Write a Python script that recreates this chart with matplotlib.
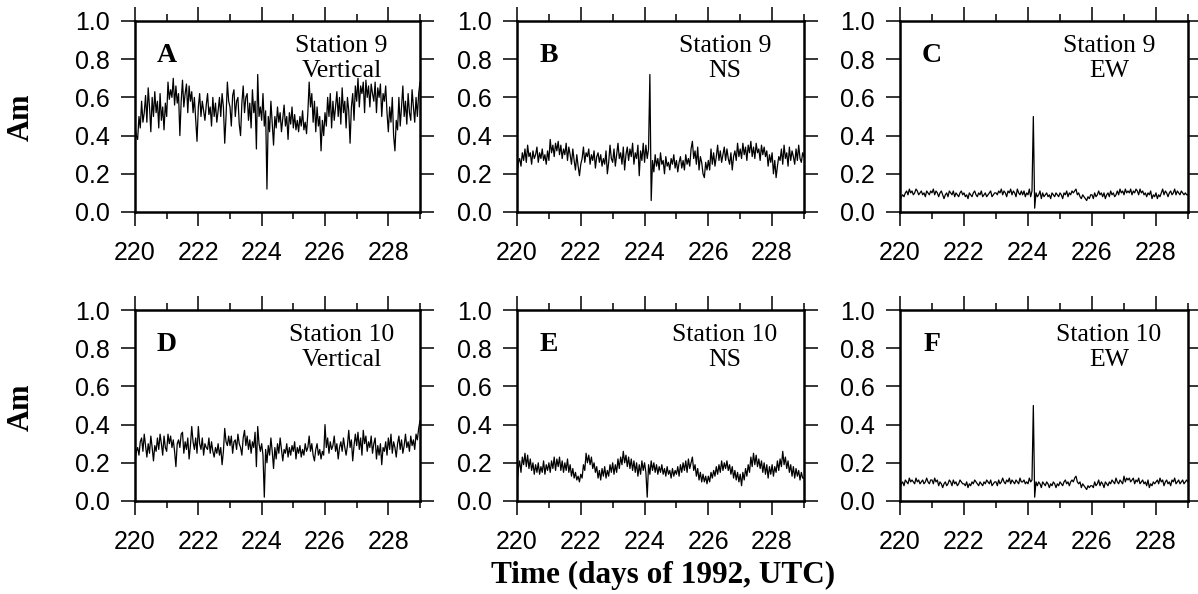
import numpy as np
import matplotlib
matplotlib.use('Agg')
import matplotlib.pyplot as plt
from matplotlib.ticker import MultipleLocator

# amostras horárias, dias 220 a 229 de 1992 (uma linha por dia)
dias = 220 + np.arange(217) / 24

am_a = [0.45, 0.40, 0.38, 0.50, 0.44, 0.58, 0.47, 0.52, 0.61, 0.47, 0.65, 0.55, 0.42, 0.60, 0.50, 0.63, 0.52, 0.58, 0.44, 0.62, 0.48, 0.55, 0.43, 0.57,
        0.50, 0.68, 0.59, 0.64, 0.60, 0.70, 0.56, 0.66, 0.57, 0.62, 0.40, 0.58, 0.69, 0.55, 0.62, 0.67, 0.52, 0.66, 0.58, 0.63, 0.52, 0.60, 0.48, 0.37,
        0.55, 0.62, 0.50, 0.58, 0.53, 0.48, 0.56, 0.62, 0.51, 0.55, 0.45, 0.60, 0.50, 0.57, 0.47, 0.53, 0.60, 0.50, 0.62, 0.55, 0.36, 0.50, 0.68, 0.58,
        0.55, 0.45, 0.61, 0.64, 0.50, 0.58, 0.60, 0.46, 0.40, 0.57, 0.66, 0.52, 0.60, 0.62, 0.48, 0.57, 0.44, 0.64, 0.52, 0.58, 0.33, 0.72, 0.50, 0.55,
        0.48, 0.62, 0.45, 0.53, 0.12, 0.50, 0.42, 0.58, 0.46, 0.35, 0.50, 0.44, 0.55, 0.47, 0.52, 0.42, 0.49, 0.56, 0.45, 0.50, 0.38, 0.52, 0.46, 0.55,
        0.44, 0.51, 0.43, 0.48, 0.42, 0.50, 0.45, 0.53, 0.43, 0.47, 0.41, 0.52, 0.68, 0.55, 0.62, 0.47, 0.58, 0.42, 0.55, 0.45, 0.50, 0.32, 0.48, 0.40,
        0.52, 0.45, 0.60, 0.50, 0.62, 0.44, 0.58, 0.48, 0.55, 0.63, 0.50, 0.60, 0.46, 0.65, 0.52, 0.58, 0.44, 0.60, 0.53, 0.36, 0.55, 0.62, 0.48, 0.66,
        0.58, 0.70, 0.55, 0.66, 0.62, 0.68, 0.52, 0.69, 0.60, 0.66, 0.55, 0.67, 0.62, 0.58, 0.68, 0.52, 0.65, 0.60, 0.67, 0.50, 0.62, 0.58, 0.66, 0.52,
        0.42, 0.55, 0.47, 0.60, 0.40, 0.32, 0.48, 0.43, 0.60, 0.45, 0.55, 0.66, 0.50, 0.58, 0.46, 0.62, 0.52, 0.48, 0.64, 0.55, 0.47, 0.60, 0.50, 0.62,
        0.68]

am_b = [0.20, 0.26, 0.28, 0.24, 0.31, 0.27, 0.33, 0.26, 0.35, 0.29, 0.31, 0.25, 0.32, 0.28, 0.30, 0.34, 0.26, 0.31, 0.28, 0.33, 0.27, 0.30, 0.25, 0.32,
        0.27, 0.38, 0.31, 0.35, 0.29, 0.36, 0.32, 0.37, 0.30, 0.35, 0.28, 0.33, 0.30, 0.36, 0.27, 0.34, 0.30, 0.25, 0.33, 0.27, 0.22, 0.30, 0.24, 0.19,
        0.25, 0.28, 0.34, 0.26, 0.31, 0.29, 0.33, 0.25, 0.30, 0.27, 0.32, 0.23, 0.29, 0.31, 0.26, 0.30, 0.24, 0.28, 0.25, 0.32, 0.20, 0.26, 0.35, 0.28,
        0.26, 0.33, 0.24, 0.30, 0.36, 0.28, 0.31, 0.25, 0.34, 0.22, 0.30, 0.34, 0.27, 0.33, 0.29, 0.36, 0.25, 0.31, 0.28, 0.35, 0.19, 0.32, 0.27, 0.36,
        0.26, 0.35, 0.28, 0.33, 0.72, 0.06, 0.27, 0.21, 0.30, 0.24, 0.28, 0.22, 0.31, 0.25, 0.27, 0.20, 0.29, 0.24, 0.26, 0.22, 0.28, 0.25, 0.30, 0.23,
        0.27, 0.21, 0.26, 0.29, 0.23, 0.27, 0.22, 0.30, 0.25, 0.28, 0.24, 0.33, 0.37, 0.28, 0.32, 0.25, 0.34, 0.22, 0.29, 0.26, 0.20, 0.18, 0.26, 0.22,
        0.27, 0.22, 0.33, 0.25, 0.31, 0.24, 0.29, 0.35, 0.27, 0.32, 0.26, 0.30, 0.34, 0.27, 0.33, 0.28, 0.25, 0.31, 0.22, 0.29, 0.32, 0.27, 0.36, 0.29,
        0.33, 0.28, 0.36, 0.30, 0.34, 0.27, 0.35, 0.31, 0.37, 0.29, 0.34, 0.28, 0.36, 0.31, 0.33, 0.27, 0.35, 0.30, 0.34, 0.29, 0.32, 0.24, 0.30, 0.26,
        0.31, 0.20, 0.27, 0.18, 0.24, 0.29, 0.27, 0.33, 0.25, 0.35, 0.28, 0.31, 0.24, 0.34, 0.27, 0.32, 0.29, 0.25, 0.33, 0.27, 0.35, 0.28, 0.26, 0.31,
        0.29]

am_c = [0.06, 0.08, 0.09, 0.08, 0.10, 0.11, 0.09, 0.12, 0.10, 0.11, 0.09, 0.10, 0.12, 0.11, 0.09, 0.10, 0.11, 0.09, 0.10, 0.08, 0.11, 0.10, 0.09, 0.11,
        0.10, 0.12, 0.09, 0.11, 0.10, 0.08, 0.10, 0.11, 0.09, 0.07, 0.09, 0.10, 0.08, 0.11, 0.10, 0.09, 0.11, 0.08, 0.10, 0.09, 0.08, 0.10, 0.11, 0.09,
        0.10, 0.08, 0.09, 0.07, 0.10, 0.09, 0.08, 0.10, 0.11, 0.09, 0.08, 0.10, 0.09, 0.11, 0.08, 0.09, 0.10, 0.08, 0.09, 0.10, 0.11, 0.08, 0.09, 0.10,
        0.10, 0.09, 0.11, 0.10, 0.12, 0.09, 0.11, 0.10, 0.08, 0.11, 0.10, 0.12, 0.09, 0.11, 0.10, 0.08, 0.12, 0.10, 0.09, 0.11, 0.09, 0.11, 0.08, 0.10,
        0.09, 0.12, 0.08, 0.11, 0.50, 0.02, 0.10, 0.08, 0.09, 0.11, 0.07, 0.10, 0.08, 0.09, 0.10, 0.08, 0.09, 0.07, 0.10, 0.09, 0.08, 0.10, 0.09, 0.08,
        0.10, 0.09, 0.07, 0.10, 0.09, 0.11, 0.08, 0.10, 0.09, 0.11, 0.10, 0.11, 0.12, 0.09, 0.10, 0.08, 0.07, 0.09, 0.08, 0.07, 0.06, 0.08, 0.07, 0.09,
        0.09, 0.07, 0.10, 0.08, 0.09, 0.11, 0.09, 0.10, 0.08, 0.10, 0.07, 0.09, 0.10, 0.08, 0.11, 0.09, 0.10, 0.08, 0.09, 0.11, 0.09, 0.12, 0.10, 0.11,
        0.09, 0.12, 0.10, 0.11, 0.10, 0.12, 0.09, 0.11, 0.10, 0.12, 0.11, 0.09, 0.12, 0.10, 0.11, 0.09, 0.10, 0.08, 0.10, 0.09, 0.11, 0.07, 0.09, 0.08,
        0.10, 0.07, 0.09, 0.08, 0.10, 0.12, 0.09, 0.11, 0.10, 0.08, 0.10, 0.11, 0.09, 0.10, 0.12, 0.09, 0.11, 0.10, 0.09, 0.11, 0.10, 0.09, 0.10, 0.09,
        0.09]

am_d = [0.20, 0.26, 0.28, 0.24, 0.31, 0.33, 0.26, 0.35, 0.29, 0.23, 0.30, 0.25, 0.34, 0.28, 0.21, 0.29, 0.26, 0.33, 0.27, 0.35, 0.30, 0.24, 0.34, 0.28,
        0.26, 0.35, 0.30, 0.34, 0.28, 0.32, 0.26, 0.18, 0.30, 0.32, 0.28, 0.35, 0.36, 0.25, 0.31, 0.27, 0.33, 0.22, 0.29, 0.39, 0.31, 0.27, 0.33, 0.25,
        0.39, 0.30, 0.27, 0.33, 0.24, 0.30, 0.28, 0.27, 0.33, 0.25, 0.31, 0.26, 0.23, 0.28, 0.25, 0.30, 0.24, 0.28, 0.19, 0.26, 0.38, 0.31, 0.29, 0.34,
        0.29, 0.34, 0.25, 0.31, 0.32, 0.27, 0.35, 0.30, 0.28, 0.24, 0.33, 0.37, 0.29, 0.34, 0.27, 0.32, 0.25, 0.31, 0.28, 0.36, 0.18, 0.39, 0.30, 0.26,
        0.30, 0.24, 0.02, 0.27, 0.20, 0.29, 0.24, 0.33, 0.26, 0.17, 0.28, 0.22, 0.30, 0.25, 0.33, 0.27, 0.21, 0.27, 0.25, 0.30, 0.23, 0.28, 0.24, 0.29,
        0.26, 0.31, 0.22, 0.28, 0.25, 0.29, 0.23, 0.27, 0.24, 0.30, 0.26, 0.28, 0.34, 0.26, 0.30, 0.24, 0.21, 0.27, 0.30, 0.24, 0.27, 0.22, 0.26, 0.24,
        0.40, 0.28, 0.33, 0.25, 0.31, 0.27, 0.29, 0.34, 0.26, 0.30, 0.22, 0.28, 0.31, 0.26, 0.33, 0.28, 0.24, 0.29, 0.37, 0.28, 0.32, 0.21, 0.29, 0.35,
        0.29, 0.36, 0.27, 0.33, 0.24, 0.37, 0.30, 0.34, 0.26, 0.31, 0.28, 0.34, 0.25, 0.30, 0.33, 0.22, 0.29, 0.24, 0.30, 0.19, 0.28, 0.26, 0.31, 0.24,
        0.33, 0.27, 0.35, 0.25, 0.31, 0.28, 0.23, 0.30, 0.34, 0.27, 0.32, 0.25, 0.29, 0.35, 0.28, 0.31, 0.26, 0.34, 0.29, 0.32, 0.27, 0.35, 0.32, 0.38,
        0.42]

am_e = [0.08, 0.17, 0.21, 0.15, 0.23, 0.19, 0.25, 0.18, 0.24, 0.17, 0.22, 0.16, 0.20, 0.14, 0.19, 0.15, 0.20, 0.14, 0.18, 0.15, 0.21, 0.14, 0.19, 0.16,
        0.20, 0.15, 0.21, 0.17, 0.23, 0.16, 0.22, 0.18, 0.23, 0.16, 0.21, 0.15, 0.20, 0.16, 0.22, 0.15, 0.19, 0.13, 0.17, 0.12, 0.15, 0.11, 0.13, 0.10,
        0.14, 0.12, 0.19, 0.16, 0.25, 0.20, 0.24, 0.19, 0.23, 0.17, 0.20, 0.15, 0.18, 0.12, 0.16, 0.11, 0.17, 0.13, 0.18, 0.12, 0.16, 0.13, 0.19, 0.15,
        0.20, 0.14, 0.19, 0.15, 0.22, 0.17, 0.23, 0.19, 0.26, 0.20, 0.24, 0.18, 0.23, 0.17, 0.22, 0.16, 0.21, 0.15, 0.20, 0.13, 0.19, 0.14, 0.21, 0.16,
        0.20, 0.15, 0.02, 0.19, 0.14, 0.21, 0.16, 0.20, 0.15, 0.19, 0.14, 0.18, 0.15, 0.19, 0.14, 0.17, 0.13, 0.18, 0.14, 0.16, 0.12, 0.17, 0.13, 0.16,
        0.14, 0.18, 0.13, 0.19, 0.15, 0.20, 0.16, 0.21, 0.15, 0.22, 0.17, 0.20, 0.23, 0.16, 0.19, 0.13, 0.17, 0.11, 0.15, 0.10, 0.14, 0.10, 0.13, 0.09,
        0.13, 0.10, 0.15, 0.12, 0.16, 0.13, 0.18, 0.14, 0.19, 0.15, 0.21, 0.16, 0.20, 0.17, 0.21, 0.16, 0.19, 0.14, 0.18, 0.12, 0.16, 0.11, 0.15, 0.10,
        0.14, 0.08, 0.15, 0.11, 0.17, 0.13, 0.19, 0.15, 0.23, 0.18, 0.25, 0.19, 0.24, 0.18, 0.22, 0.17, 0.21, 0.15, 0.20, 0.14, 0.19, 0.12, 0.18, 0.14,
        0.19, 0.13, 0.18, 0.15, 0.21, 0.16, 0.22, 0.18, 0.26, 0.19, 0.23, 0.17, 0.21, 0.15, 0.19, 0.13, 0.18, 0.12, 0.17, 0.13, 0.16, 0.11, 0.15, 0.12,
        0.12]

am_f = [0.07, 0.09, 0.10, 0.08, 0.11, 0.10, 0.09, 0.12, 0.10, 0.11, 0.10, 0.09, 0.12, 0.10, 0.11, 0.09, 0.10, 0.11, 0.09, 0.10, 0.12, 0.10, 0.09, 0.11,
        0.11, 0.09, 0.12, 0.10, 0.11, 0.08, 0.10, 0.09, 0.07, 0.09, 0.10, 0.08, 0.09, 0.11, 0.10, 0.08, 0.11, 0.09, 0.10, 0.08, 0.09, 0.11, 0.10, 0.09,
        0.09, 0.08, 0.10, 0.07, 0.09, 0.08, 0.10, 0.09, 0.11, 0.10, 0.09, 0.08, 0.10, 0.09, 0.08, 0.10, 0.09, 0.11, 0.10, 0.09, 0.11, 0.08, 0.09, 0.10,
        0.10, 0.08, 0.11, 0.09, 0.10, 0.12, 0.10, 0.09, 0.11, 0.10, 0.12, 0.09, 0.11, 0.10, 0.09, 0.11, 0.10, 0.09, 0.12, 0.10, 0.10, 0.11, 0.09, 0.10,
        0.09, 0.12, 0.10, 0.11, 0.50, 0.02, 0.10, 0.08, 0.10, 0.09, 0.07, 0.10, 0.09, 0.08, 0.10, 0.09, 0.07, 0.09, 0.08, 0.10, 0.09, 0.07, 0.09, 0.08,
        0.10, 0.09, 0.08, 0.10, 0.11, 0.09, 0.10, 0.08, 0.10, 0.11, 0.10, 0.12, 0.13, 0.10, 0.09, 0.10, 0.07, 0.09, 0.08, 0.07, 0.06, 0.08, 0.07, 0.08,
        0.08, 0.07, 0.10, 0.08, 0.09, 0.11, 0.08, 0.10, 0.09, 0.07, 0.10, 0.09, 0.08, 0.10, 0.09, 0.11, 0.10, 0.09, 0.12, 0.10, 0.09, 0.11, 0.10, 0.09,
        0.13, 0.10, 0.12, 0.11, 0.12, 0.10, 0.11, 0.12, 0.09, 0.11, 0.10, 0.12, 0.09, 0.10, 0.11, 0.09, 0.10, 0.08, 0.11, 0.07, 0.09, 0.08, 0.10, 0.09,
        0.10, 0.11, 0.09, 0.12, 0.10, 0.11, 0.08, 0.10, 0.11, 0.09, 0.10, 0.08, 0.11, 0.10, 0.12, 0.09, 0.10, 0.11, 0.09, 0.10, 0.11, 0.09, 0.10, 0.11,
        0.10]

letras = ['A', 'B', 'C', 'D', 'E', 'F']
estacoes = ['Station 9', 'Station 9', 'Station 9', 'Station 10', 'Station 10', 'Station 10']
componentes = ['Vertical', 'NS', 'EW', 'Vertical', 'NS', 'EW']
series = [am_a, am_b, am_c, am_d, am_e, am_f]

serif = ['Liberation Serif', 'DejaVu Serif']
sans = ['Liberation Sans', 'DejaVu Sans']


def painel(fig, pos, y, letra, estacao, comp):
    ax = fig.add_axes(pos)
    ax.plot(dias, y, color='black', linewidth=0.9)
    ax.set_xlim(220, 229)
    ax.set_ylim(0, 1)
    ax.xaxis.set_major_locator(MultipleLocator(2))
    ax.xaxis.set_minor_locator(MultipleLocator(1))
    ax.yaxis.set_major_locator(MultipleLocator(0.2))
    ax.tick_params(which='major', direction='out', length=10, width=1.1,
                   top=True, right=True, labelsize=18, pad=8)
    ax.tick_params(axis='x', which='major', pad=11)
    ax.tick_params(which='minor', direction='out', length=5, width=1.1, top=True)
    ax.set_yticklabels([f'{v:.1f}' for v in ax.get_yticks()])
    for lab in ax.get_xticklabels() + ax.get_yticklabels():
        lab.set_family(sans)
    for s in ax.spines.values():
        s.set_linewidth(1.8)
    ax.text(0.11, 0.787, letra, transform=ax.transAxes, ha='center', va='baseline',
            fontsize=20, fontweight='bold', family=serif)
    ax.text(0.725, 0.838, estacao, transform=ax.transAxes, ha='center', va='baseline',
            fontsize=18.5, family=serif)
    ax.text(0.725, 0.707, comp, transform=ax.transAxes, ha='center', va='baseline',
            fontsize=18.5, family=serif)
    return ax


fig = plt.figure(figsize=(11.98, 5.94), dpi=100)

lefts = [135, 517, 900]
larguras = [285, 287, 288]
topos = [21, 310]
altura = 191

for i in range(6):
    lin, col = divmod(i, 3)
    l = lefts[col] / 1198
    b = 1 - (topos[lin] + altura) / 594
    painel(fig, [l, b, larguras[col] / 1198, altura / 594], series[i],
           letras[i], estacoes[i], componentes[i])

fig.text(21 / 1198, 1 - 117 / 594, 'Am', rotation=90, ha='center', va='center',
         fontsize=22, fontweight='bold', family=serif)
fig.text(21 / 1198, 1 - 407 / 594, 'Am', rotation=90, ha='center', va='center',
         fontsize=22, fontweight='bold', family=serif)
fig.text(663 / 1198, 1 - 575 / 594, 'Time (days of 1992, UTC)', ha='center', va='center',
         fontsize=22.5, fontweight='bold', family=serif)

fig.savefig('out.png', dpi=100)
